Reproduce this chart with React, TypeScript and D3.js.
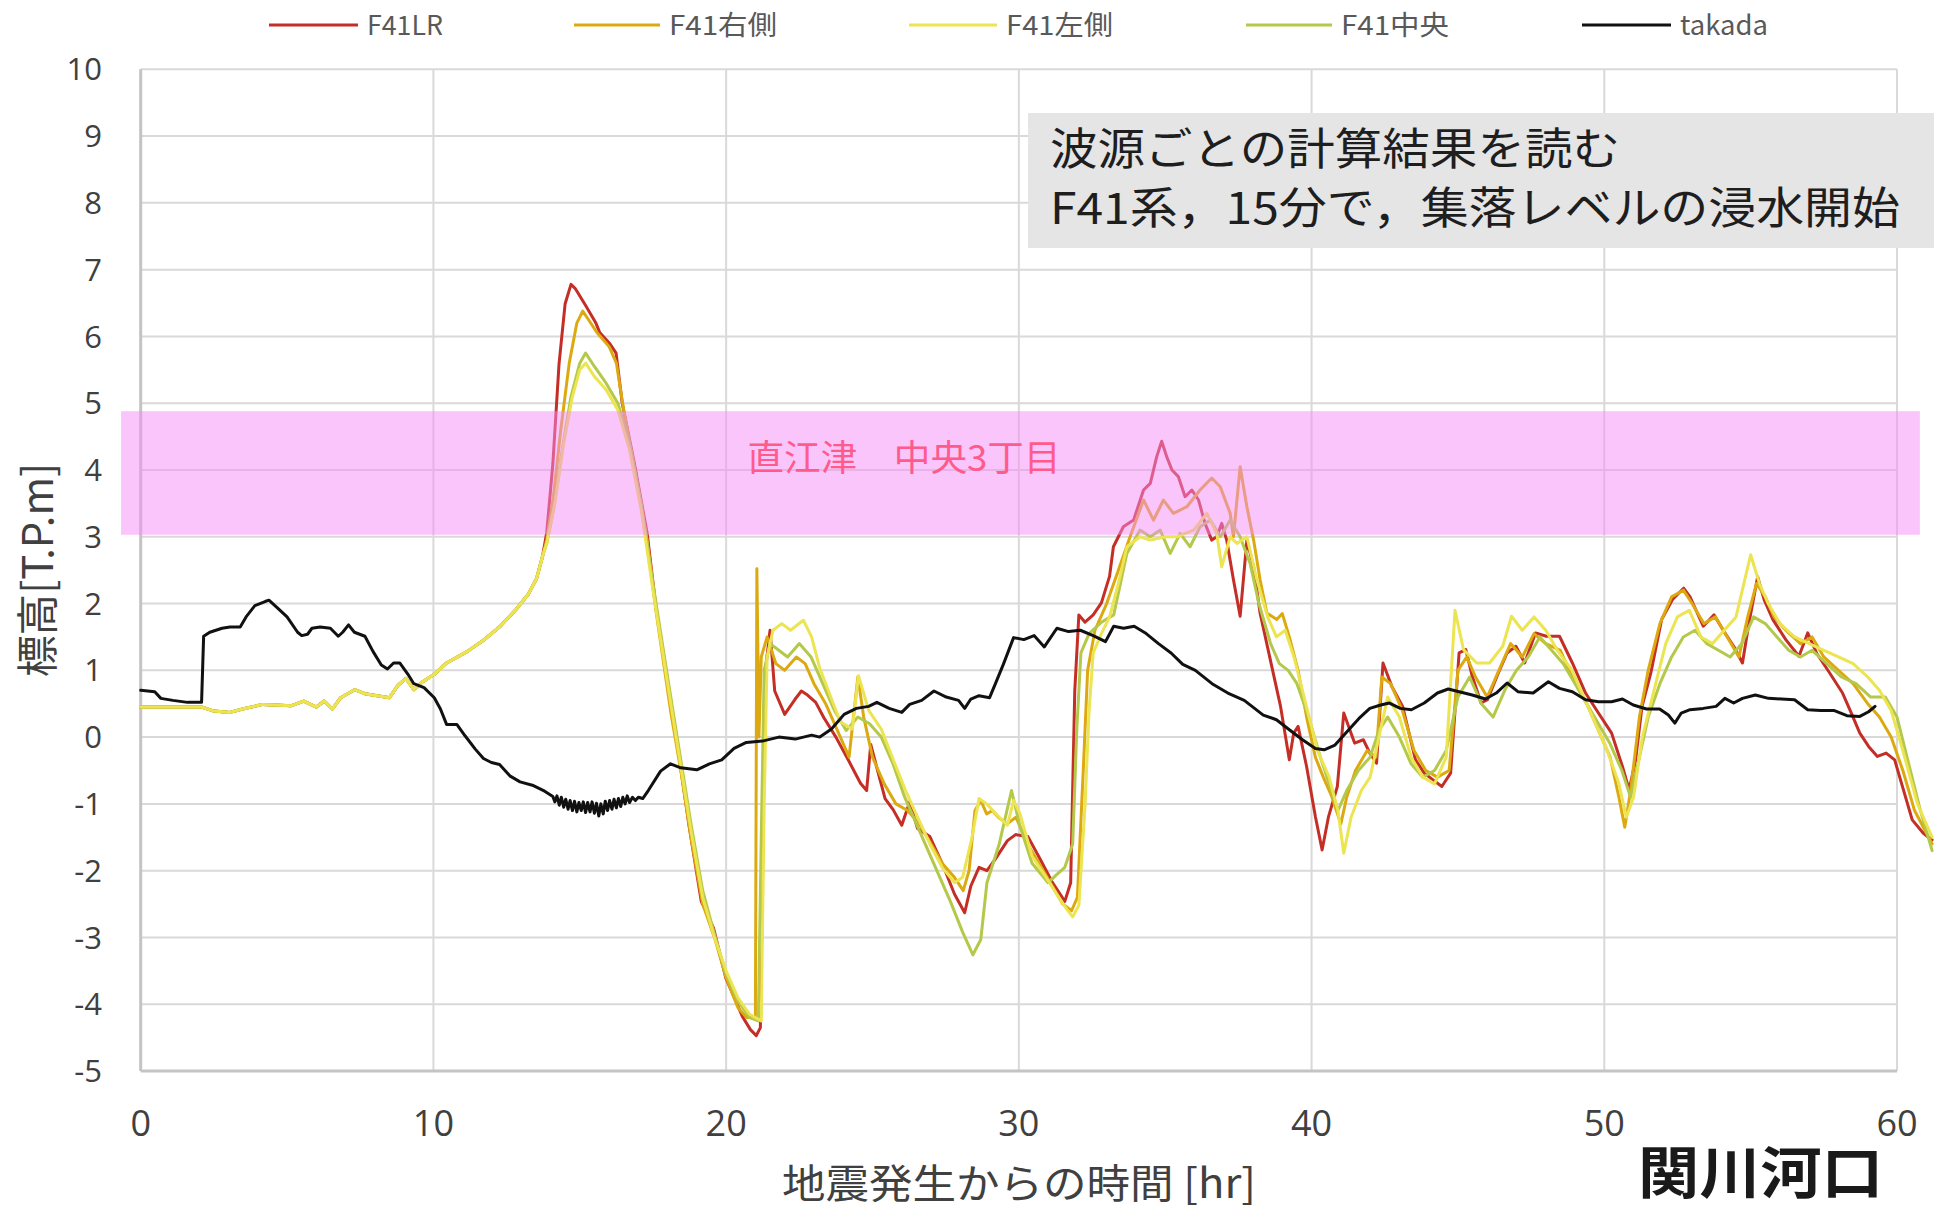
import React, { useEffect } from "react";
import * as d3 from "d3";

type Pt = [number, number];

const W = 1934;
const H = 1214;
const PLOT = { left: 140.7, right: 1897, top: 69.3, bottom: 1071 };

const xTickValues = [0, 10, 20, 30, 40, 50, 60];
const yTickValues = [-5, -4, -3, -2, -1, 0, 1, 2, 3, 4, 5, 6, 7, 8, 9, 10];

const seriesNames = ["F41LR", "F41右側", "F41左側", "F41中央", "takada"];
const seriesColors = ["#c42e26", "#dcaa10", "#ece450", "#b4c84a", "#111111"];

const bandT: Pt = [-0.67, 60.78];
const bandV: Pt = [3.03, 4.88];
const bandLabel = "直江津　中央3丁目";

const noteLines = ["波源ごとの計算結果を読む", "F41系，15分で，集落レベルの浸水開始"];

// common early part shared by the four F41 curves (they overlap)
const riseCommon: Pt[] = [
  [0, 0.45], [2.08, 0.45], [2.5, 0.39], [3.05, 0.37], [3.48, 0.42], [4.17, 0.49], [5.15, 0.47],
  [5.57, 0.54], [6.0, 0.45], [6.27, 0.54], [6.55, 0.42], [6.83, 0.59], [7.31, 0.71], [7.66, 0.65],
  [8.08, 0.62], [8.5, 0.59], [8.78, 0.77], [9.06, 0.88], [9.33, 0.71], [9.61, 0.82], [10.03, 0.94],
  [10.45, 1.11], [11.15, 1.28], [11.71, 1.45], [12.26, 1.65], [12.82, 1.91], [13.24, 2.14],
  [13.52, 2.37], [13.73, 2.71],
];

const f41LR: Pt[] = [
  ...riseCommon,
  [13.87, 3.06], [14.08, 4.09], [14.29, 5.58], [14.5, 6.49], [14.7, 6.78], [14.84, 6.72], [15.19, 6.47],
  [15.54, 6.21], [15.68, 6.06], [16.03, 5.89], [16.24, 5.75], [16.45, 5.0], [16.87, 4.09], [17.3, 3.06],
  [17.6, 1.95], [18.18, 0.34], [18.45, -0.46], [18.73, -1.32], [19.15, -2.46], [19.57, -2.86],
  [19.99, -3.61], [20.27, -3.89], [20.55, -4.18], [20.83, -4.38], [21.03, -4.47], [21.17, -4.35],
  [21.24, -2.18], [21.31, 0.11], [21.38, 1.15], [21.5, 1.6], [21.66, 0.69], [22.0, 0.34], [22.36, 0.57],
  [22.57, 0.69], [22.78, 0.63], [23.06, 0.52], [23.34, 0.29], [23.75, 0.0], [24.17, -0.34],
  [24.59, -0.69], [24.8, -0.8], [24.94, -0.11], [25.15, -0.46], [25.43, -0.92], [25.71, -1.09],
  [26.0, -1.32], [26.27, -0.97], [26.54, -1.37], [26.96, -1.49], [27.38, -1.89], [27.8, -2.35],
  [28.15, -2.63], [28.36, -2.23], [28.64, -1.95], [28.91, -2.0], [29.19, -1.83], [29.61, -1.55],
  [29.89, -1.46], [30.31, -1.49], [30.73, -1.83], [31.15, -2.18], [31.57, -2.46], [31.77, -2.18],
  [31.91, 0.69], [32.05, 1.83], [32.26, 1.72], [32.54, 1.83], [32.82, 2.01], [33.1, 2.41],
  [33.23, 2.85], [33.57, 3.15], [33.92, 3.25], [34.26, 3.7], [34.49, 3.8], [34.71, 4.2], [34.88, 4.43],
  [35.05, 4.2], [35.23, 4.0], [35.45, 3.9], [35.68, 3.6], [35.91, 3.7], [36.14, 3.55], [36.36, 3.2],
  [36.59, 2.95], [36.76, 3.0], [36.93, 3.2], [37.1, 2.95], [37.33, 2.36], [37.56, 1.81], [37.79, 2.95],
  [38.02, 2.55], [38.24, 1.86], [38.64, 1.06], [38.94, 0.46], [39.24, -0.34], [39.39, 0.06],
  [39.54, 0.16], [39.83, -0.44], [40.13, -1.19], [40.36, -1.69], [40.58, -1.19], [40.88, -0.74],
  [41.1, 0.36], [41.47, -0.09], [41.77, -0.04], [41.99, -0.24], [42.22, -0.39], [42.44, 1.11],
  [42.74, 0.76], [43.11, 0.46], [43.55, -0.34], [43.85, -0.54], [44.15, -0.64], [44.45, -0.74],
  [44.75, -0.54], [45.04, 1.26], [45.27, 1.31], [45.49, 0.91], [45.79, 0.51], [46.01, 0.56],
  [46.38, 0.96], [46.68, 1.26], [46.98, 1.36], [47.28, 1.11], [47.65, 1.56], [48.02, 1.51],
  [48.47, 1.51], [48.91, 1.11], [49.36, 0.66], [49.8, 0.36], [50.25, 0.06], [50.62, -0.44],
  [50.85, -0.79], [51.07, -0.34], [51.29, 0.46], [51.59, 0.96], [51.96, 1.76], [52.33, 2.06],
  [52.71, 2.23], [52.93, 2.1], [53.38, 1.66], [53.75, 1.83], [54.12, 1.56], [54.42, 1.36],
  [54.72, 1.11], [54.94, 1.7], [55.24, 2.4], [55.46, 2.06], [55.76, 1.76], [56.2, 1.46], [56.65, 1.21],
  [56.95, 1.56], [57.25, 1.26], [57.7, 0.96], [58.14, 0.66], [58.44, 0.36], [58.73, 0.06],
  [59.03, -0.14], [59.33, -0.29], [59.63, -0.24], [59.92, -0.34], [60.22, -0.79], [60.52, -1.24],
  [60.9, -1.44], [61.2, -1.54],
];

const f41Right: Pt[] = [
  ...riseCommon,
  [13.87, 2.95], [14.1, 3.6], [14.35, 4.6], [14.64, 5.6], [14.9, 6.2], [15.1, 6.38], [15.3, 6.25],
  [15.6, 6.05], [16.0, 5.85], [16.25, 5.6], [16.5, 4.9], [16.9, 3.95], [17.3, 2.95], [17.6, 1.9],
  [18.1, 0.4], [18.45, -0.5], [18.8, -1.5], [19.2, -2.5], [19.6, -3.0], [20.0, -3.6], [20.4, -4.05],
  [20.7, -4.2], [21.0, -4.2], [21.05, 2.52], [21.12, 0.0], [21.2, 1.2], [21.4, 1.5], [21.7, 1.1],
  [22.0, 1.0], [22.4, 1.2], [22.7, 1.1], [23.0, 0.8], [23.4, 0.5], [23.8, 0.1], [24.2, -0.3],
  [24.5, 0.9], [24.7, 0.3], [25.0, -0.3], [25.4, -0.7], [25.8, -1.0], [26.2, -1.1], [26.6, -1.3],
  [27.0, -1.6], [27.4, -1.9], [27.8, -2.1], [28.1, -2.3], [28.3, -2.0], [28.5, -1.1], [28.7, -0.95],
  [28.9, -1.15], [29.1, -1.1], [29.3, -1.2], [29.6, -1.3], [29.9, -1.2], [30.3, -1.6], [30.7, -1.9],
  [31.1, -2.2], [31.5, -2.5], [31.8, -2.6], [32.0, -2.4], [32.2, -0.5], [32.35, 1.0], [32.6, 1.6],
  [33.0, 2.0], [33.4, 2.5], [33.8, 3.0], [34.26, 3.55], [34.6, 3.25], [34.94, 3.55], [35.28, 3.35],
  [35.74, 3.45], [36.19, 3.7], [36.59, 3.88], [36.88, 3.75], [37.22, 3.35], [37.33, 3.0],
  [37.56, 4.05], [37.79, 3.45], [38.02, 2.95], [38.24, 2.36], [38.47, 1.86], [38.81, 1.76],
  [39.0, 1.85], [39.24, 1.5], [39.54, 1.0], [39.83, 0.3], [40.13, -0.3], [40.4, -0.6], [40.7, -0.9],
  [41.0, -1.3], [41.2, -0.9], [41.5, -0.5], [41.9, -0.2], [42.2, -0.3], [42.4, 0.9], [42.7, 0.8],
  [43.1, 0.4], [43.5, -0.2], [43.9, -0.5], [44.3, -0.6], [44.7, -0.5], [45.0, 1.0], [45.3, 1.2],
  [45.6, 0.9], [46.0, 0.6], [46.4, 1.0], [46.8, 1.4], [47.2, 1.2], [47.6, 1.55], [48.0, 1.4],
  [48.5, 1.3], [48.9, 0.9], [49.4, 0.5], [49.8, 0.1], [50.2, -0.3], [50.5, -0.9], [50.7, -1.35],
  [50.9, -0.8], [51.2, 0.3], [51.5, 1.0], [51.9, 1.7], [52.3, 2.1], [52.7, 2.2], [53.0, 2.0],
  [53.4, 1.7], [53.8, 1.8], [54.2, 1.5], [54.6, 1.2], [54.9, 1.8], [55.2, 2.3], [55.5, 2.1],
  [55.8, 1.8], [56.2, 1.6], [56.7, 1.4], [57.1, 1.5], [57.5, 1.2], [58.0, 1.0], [58.5, 0.8],
  [59.0, 0.5], [59.4, 0.3], [59.8, 0.0], [60.2, -0.5], [60.6, -1.1], [61.2, -1.6],
];

const f41Left: Pt[] = [
  ...riseCommon,
  [13.87, 2.9], [14.15, 3.5], [14.45, 4.4], [14.75, 5.1], [15.0, 5.5], [15.2, 5.6], [15.5, 5.4],
  [15.9, 5.2], [16.3, 4.9], [16.7, 4.3], [17.1, 3.4], [17.5, 2.2], [18.0, 0.8], [18.4, -0.3],
  [18.8, -1.4], [19.2, -2.4], [19.6, -3.0], [20.0, -3.5], [20.4, -3.9], [20.8, -4.15], [21.2, -4.25],
  [21.3, -1.0], [21.4, 1.2], [21.6, 1.6], [21.9, 1.7], [22.2, 1.6], [22.64, 1.75], [22.92, 1.5],
  [23.2, 1.03], [23.6, 0.57], [23.9, 0.23], [24.31, 0.12], [24.52, 0.92], [24.87, 0.4], [25.3, 0.12],
  [25.71, -0.34], [26.13, -0.8], [26.54, -1.2], [26.96, -1.6], [27.38, -1.95], [27.8, -2.18],
  [28.08, -2.1], [28.4, -1.5], [28.64, -0.92], [28.9, -1.0], [29.33, -1.2], [29.61, -1.32],
  [29.82, -0.95], [30.03, -1.14], [30.45, -1.78], [30.87, -2.06], [31.29, -2.35], [31.64, -2.58],
  [31.84, -2.69], [32.05, -2.52], [32.26, -1.03], [32.4, 0.4], [32.54, 1.26], [32.82, 1.55],
  [33.1, 1.8], [33.4, 2.3], [33.69, 2.85], [34.14, 3.0], [34.49, 2.95], [35.0, 3.0], [35.4, 3.0],
  [35.97, 3.1], [36.42, 3.35], [36.76, 3.05], [36.93, 2.55], [37.22, 3.0], [37.45, 2.9], [37.79, 3.0],
  [38.13, 2.36], [38.5, 1.8], [38.8, 1.5], [39.1, 1.6], [39.4, 1.2], [39.8, 0.5], [40.2, -0.2],
  [40.6, -0.6], [40.9, -1.1], [41.1, -1.74], [41.35, -1.2], [41.7, -0.8], [42.0, -0.6], [42.3, 0.0],
  [42.6, 0.6], [43.0, 0.3], [43.4, -0.3], [43.8, -0.6], [44.2, -0.7], [44.6, -0.3], [44.9, 1.9],
  [45.19, 1.31], [45.64, 1.11], [46.08, 1.11], [46.53, 1.36], [46.83, 1.81], [47.2, 1.6], [47.6, 1.8],
  [48.0, 1.6], [48.4, 1.3], [48.9, 1.0], [49.3, 0.6], [49.7, 0.2], [50.1, -0.2], [50.5, -0.7],
  [50.75, -1.2], [51.0, -0.9], [51.3, 0.0], [51.7, 0.7], [52.1, 1.4], [52.5, 1.8], [52.9, 1.9],
  [53.3, 1.5], [53.7, 1.4], [54.1, 1.6], [54.5, 1.8], [55.0, 2.73], [55.3, 2.3], [55.6, 2.0],
  [56.0, 1.7], [56.5, 1.5], [57.0, 1.4], [57.5, 1.3], [58.0, 1.2], [58.5, 1.1], [59.0, 0.9],
  [59.4, 0.7], [59.8, 0.4], [60.2, -0.2], [60.7, -1.0], [61.2, -1.5],
];

const f41Center: Pt[] = [
  ...riseCommon,
  [13.87, 2.9], [14.1, 3.4], [14.4, 4.3], [14.7, 5.1], [15.0, 5.6], [15.2, 5.75], [15.5, 5.55],
  [15.9, 5.3], [16.3, 5.0], [16.7, 4.4], [17.1, 3.5], [17.5, 2.3], [18.0, 0.9], [18.4, -0.2],
  [18.8, -1.3], [19.2, -2.3], [19.6, -2.95], [20.0, -3.55], [20.4, -3.95], [20.8, -4.2], [21.1, -4.25],
  [21.2, -1.5], [21.3, 1.0], [21.5, 1.4], [21.8, 1.3], [22.1, 1.2], [22.5, 1.4], [22.9, 1.2],
  [23.3, 0.8], [23.7, 0.4], [24.1, 0.1], [24.5, 0.3], [24.9, 0.2], [25.3, 0.0], [25.7, -0.4],
  [26.1, -0.9], [26.5, -1.3], [26.9, -1.7], [27.3, -2.1], [27.66, -2.46], [28.08, -2.92],
  [28.43, -3.26], [28.7, -3.03], [28.91, -2.18], [29.33, -1.6], [29.75, -0.8], [30.03, -1.32],
  [30.45, -1.89], [31.0, -2.18], [31.29, -2.06], [31.57, -1.95], [31.84, -1.6], [31.98, 0.12],
  [32.12, 1.26], [32.4, 1.55], [32.82, 1.72], [33.24, 1.83], [33.69, 2.75], [34.14, 3.1], [34.49, 3.0],
  [34.83, 3.1], [35.17, 2.75], [35.51, 3.05], [35.85, 2.85], [36.19, 3.15], [36.54, 3.25], [36.88, 3.0],
  [37.22, 3.25], [37.56, 3.0], [37.9, 2.6], [38.2, 2.0], [38.6, 1.4], [38.9, 1.1], [39.2, 1.0],
  [39.5, 0.8], [39.9, 0.3], [40.3, -0.3], [40.6, -0.7], [40.9, -1.1], [41.2, -0.8], [41.6, -0.5],
  [42.0, -0.3], [42.3, 0.1], [42.6, 0.3], [43.0, 0.0], [43.4, -0.4], [43.8, -0.6], [44.2, -0.5],
  [44.6, -0.2], [45.0, 0.6], [45.4, 0.9], [45.8, 0.5], [46.2, 0.3], [46.6, 0.7], [47.0, 1.0],
  [47.4, 1.2], [47.8, 1.5], [48.2, 1.3], [48.6, 1.1], [49.0, 0.8], [49.4, 0.5], [49.8, 0.2],
  [50.2, -0.1], [50.6, -0.5], [50.9, -0.9], [51.2, -0.3], [51.5, 0.3], [51.9, 0.8], [52.3, 1.2],
  [52.7, 1.5], [53.1, 1.6], [53.5, 1.4], [53.9, 1.3], [54.3, 1.2], [54.7, 1.4], [55.1, 1.8],
  [55.5, 1.7], [55.9, 1.5], [56.3, 1.3], [56.7, 1.2], [57.1, 1.3], [57.6, 1.1], [58.1, 0.9],
  [58.6, 0.8], [59.1, 0.6], [59.6, 0.6], [60.0, 0.3], [60.4, -0.4], [60.8, -1.1], [61.2, -1.7],
];

const takada: Pt[] = [
  [0, 0.7], [0.48, 0.68], [0.69, 0.58], [1.1, 0.55], [1.6, 0.52], [2.08, 0.52], [2.15, 1.51],
  [2.36, 1.57], [2.78, 1.63], [3.05, 1.65], [3.4, 1.65], [3.6, 1.8], [3.9, 1.97], [4.25, 2.03],
  [4.38, 2.05], [4.66, 1.94], [5.0, 1.8], [5.36, 1.57], [5.5, 1.52], [5.7, 1.54], [5.85, 1.63],
  [6.13, 1.65], [6.48, 1.63], [6.75, 1.51], [6.9, 1.57], [7.1, 1.68], [7.3, 1.57], [7.66, 1.51],
  [7.94, 1.28], [8.22, 1.08], [8.43, 1.02], [8.64, 1.11], [8.85, 1.11], [9.13, 0.94], [9.33, 0.8],
  [9.68, 0.74], [10.03, 0.59], [10.24, 0.42], [10.45, 0.19], [10.8, 0.19], [11.08, 0.02],
  [11.43, -0.18], [11.71, -0.32], [11.98, -0.38], [12.26, -0.41], [12.61, -0.58], [12.96, -0.67],
  [13.38, -0.72], [13.8, -0.81], [14.08, -0.89], [14.15, -0.97], [14.22, -0.88], [14.3, -1.02],
  [14.37, -0.9], [14.45, -1.05], [14.52, -0.93], [14.6, -1.08], [14.67, -0.95], [14.75, -1.1],
  [14.82, -0.96], [14.9, -1.12], [14.97, -0.98], [15.05, -1.1], [15.12, -0.97], [15.2, -1.13],
  [15.27, -0.98], [15.35, -1.12], [15.42, -0.97], [15.5, -1.14], [15.57, -0.99], [15.65, -1.18],
  [15.72, -1.0], [15.8, -1.15], [15.87, -0.96], [15.95, -1.1], [16.02, -0.95], [16.1, -1.08],
  [16.17, -0.93], [16.25, -1.06], [16.32, -0.92], [16.4, -1.04], [16.47, -0.9], [16.55, -1.0],
  [16.62, -0.88], [16.7, -0.98], [16.8, -0.9], [16.9, -0.95], [17.0, -0.9], [17.15, -0.92],
  [17.34, -0.8], [17.76, -0.51], [18.1, -0.4], [18.45, -0.46], [19.0, -0.49], [19.43, -0.4],
  [19.85, -0.34], [20.27, -0.17], [20.69, -0.08], [21.24, -0.06], [21.8, 0.0], [22.36, -0.03],
  [22.92, 0.03], [23.2, 0.0], [23.6, 0.12], [24.03, 0.34], [24.45, 0.43], [24.87, 0.46],
  [25.15, 0.52], [25.57, 0.43], [26.0, 0.37], [26.27, 0.49], [26.68, 0.55], [27.1, 0.69],
  [27.52, 0.6], [27.94, 0.55], [28.15, 0.43], [28.36, 0.57], [28.64, 0.62], [29.0, 0.59],
  [29.2, 0.8], [29.47, 1.09], [29.82, 1.49], [30.17, 1.46], [30.52, 1.52], [30.87, 1.35],
  [31.3, 1.63], [31.7, 1.58], [32.1, 1.6], [32.54, 1.52], [32.96, 1.43], [33.24, 1.66],
  [33.58, 1.63], [33.94, 1.66], [34.35, 1.55], [34.77, 1.4], [35.2, 1.26], [35.6, 1.09],
  [36.03, 1.0], [36.6, 0.8], [37.14, 0.66], [37.7, 0.55], [38.35, 0.33], [38.8, 0.26],
  [39.24, 0.11], [39.69, -0.04], [40.13, -0.17], [40.43, -0.19], [40.8, -0.12], [41.17, 0.06],
  [41.62, 0.28], [41.99, 0.43], [42.36, 0.48], [42.66, 0.51], [43.03, 0.43], [43.41, 0.41],
  [43.85, 0.51], [44.3, 0.66], [44.67, 0.72], [45.04, 0.68], [45.49, 0.63], [45.94, 0.57],
  [46.31, 0.66], [46.68, 0.81], [47.05, 0.68], [47.57, 0.66], [48.09, 0.83], [48.47, 0.73],
  [48.91, 0.68], [49.36, 0.56], [49.8, 0.53], [50.25, 0.53], [50.62, 0.57], [50.99, 0.48],
  [51.44, 0.42], [51.89, 0.42], [52.19, 0.33], [52.41, 0.21], [52.63, 0.36], [52.93, 0.41],
  [53.38, 0.43], [53.82, 0.46], [54.12, 0.58], [54.42, 0.51], [54.72, 0.58], [55.16, 0.63],
  [55.61, 0.58], [56.05, 0.57], [56.5, 0.56], [56.95, 0.41], [57.39, 0.4], [57.84, 0.4],
  [58.29, 0.32], [58.73, 0.31], [59.03, 0.38], [59.25, 0.46],
];

const seriesData: Pt[][] = [f41LR, f41Right, f41Left, f41Center, takada];
// red first so the yellow/green curves sit on top where they coincide
const drawOrder = [0, 1, 3, 2, 4];

const legendLineX: Pt[] = [[269, 358], [574, 660], [909, 997], [1246, 1332], [1582, 1671]];
const legendTextLen = [76, 108, 107, 108, 88];

const JP = "'Noto Sans CJK JP', 'Noto Sans', sans-serif";
const NUM = "'Open Sans', 'Noto Sans', sans-serif";

export default function App() {
  useEffect(() => {
    document.body.style.margin = "0";
    document.body.style.background = "#ffffff";
  }, []);

  const x = d3.scaleLinear().domain([0, 60]).range([PLOT.left, PLOT.right]);
  const y = d3.scaleLinear().domain([-5, 10]).range([PLOT.bottom, PLOT.top]);
  const line = d3
    .line<Pt>()
    .x((d) => x(d[0]))
    .y((d) => y(d[1]));

  const gridColor = "#d9d9d9";
  const labelColor = "#404040";

  return (
    <svg
      width={W}
      height={H}
      viewBox={`0 0 ${W} ${H}`}
      style={{ display: "block", position: "absolute", left: 0, top: 0, background: "#fff" }}
    >
      <rect x={0} y={0} width={W} height={H} fill="#ffffff" />

      {/* gridlines */}
      {yTickValues.map((v) => (
        <line key={"gy" + v} x1={PLOT.left} x2={PLOT.right} y1={y(v)} y2={y(v)} stroke={gridColor} strokeWidth={2} />
      ))}
      {xTickValues.map((t) => (
        <line key={"gx" + t} x1={x(t)} x2={x(t)} y1={PLOT.top} y2={PLOT.bottom} stroke={gridColor} strokeWidth={2} />
      ))}
      <line x1={PLOT.left} x2={PLOT.left} y1={PLOT.top} y2={PLOT.bottom} stroke="#c4c4c4" strokeWidth={3} />
      <line x1={PLOT.left} x2={PLOT.right} y1={PLOT.bottom} y2={PLOT.bottom} stroke="#c4c4c4" strokeWidth={3} />

      {/* tick labels */}
      {yTickValues.map((v) => (
        <text
          key={"ty" + v}
          x={102}
          y={y(v)}
          dy="0.36em"
          textAnchor="end"
          fontFamily={NUM}
          fontSize={31}
          fill={labelColor}
        >
          {v}
        </text>
      ))}
      {xTickValues.map((t) => (
        <text
          key={"tx" + t}
          x={x(t)}
          y={1136}
          textAnchor="middle"
          fontFamily={NUM}
          fontSize={36}
          fill={labelColor}
        >
          {t}
        </text>
      ))}

      {/* series */}
      {drawOrder.map((i) => (
        <path
          key={"s" + i}
          d={line(seriesData[i]) || ""}
          fill="none"
          stroke={seriesColors[i]}
          strokeWidth={3}
          strokeLinejoin="round"
          strokeLinecap="round"
        />
      ))}

      {/* pink band */}
      <rect
        x={x(bandT[0])}
        y={y(bandV[1])}
        width={x(bandT[1]) - x(bandT[0])}
        height={y(bandV[0]) - y(bandV[1])}
        fill="#f58cf5"
        fillOpacity={0.5}
      />
      <text x={747.5} y={471} fontFamily={JP} fontSize={36} fill="#ff5a8c" textLength={313} lengthAdjust="spacingAndGlyphs">
        {bandLabel}
      </text>

      {/* annotation box */}
      <rect x={1028} y={113} width={906} height={135} fill="#e5e5e5" />
      <text x={1050} y={165} fontFamily={JP} fontSize={44} fill="#1e1e1e" textLength={570} lengthAdjust="spacingAndGlyphs">
        {noteLines[0]}
      </text>
      <text x={1050} y={224} fontFamily={JP} fontSize={44} fill="#1e1e1e" textLength={850} lengthAdjust="spacingAndGlyphs">
        {noteLines[1]}
      </text>

      {/* legend */}
      {seriesNames.map((name, i) => (
        <g key={"lg" + i}>
          <line
            x1={legendLineX[i][0]}
            x2={legendLineX[i][1]}
            y1={25}
            y2={25}
            stroke={seriesColors[i]}
            strokeWidth={3}
          />
          <text
            x={legendLineX[i][1] + 9}
            y={25}
            dy="0.36em"
            fontFamily={JP}
            fontSize={27}
            fill="#595959"
            textLength={legendTextLen[i]}
            lengthAdjust="spacingAndGlyphs"
          >
            {name}
          </text>
        </g>
      ))}

      {/* axis titles */}
      <text
        transform="translate(38,570) rotate(-90)"
        textAnchor="middle"
        dy="0.36em"
        fontFamily={JP}
        fontSize={42}
        fill={labelColor}
        textLength={214}
        lengthAdjust="spacingAndGlyphs"
      >
        標高[T.P.m]
      </text>
      <text
        x={782}
        y={1198}
        fontFamily={JP}
        fontSize={40}
        fill={labelColor}
        textLength={474}
        lengthAdjust="spacingAndGlyphs"
      >
        地震発生からの時間 [hr]
      </text>
      <text
        x={1638}
        y={1193}
        fontFamily={JP}
        fontSize={56}
        fontWeight="bold"
        fill="#1a1a1a"
        textLength={245}
        lengthAdjust="spacingAndGlyphs"
      >
        関川河口
      </text>
    </svg>
  );
}
